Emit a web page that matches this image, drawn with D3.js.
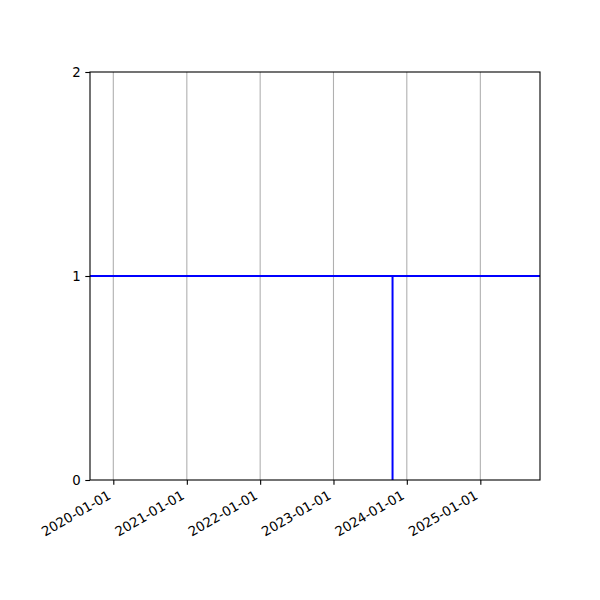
<!DOCTYPE html>
<html>
<head>
<meta charset="utf-8">
<script src="https://cdn.jsdelivr.net/npm/d3@7"></script>
<style>
  body { margin: 0; background: #fff; }
  svg text { font-family: "DejaVu Sans", sans-serif; font-size: 13.3px; fill: #000; }
</style>
</head>
<body>
<div id="chart"></div>
<script>
const xDomain = ["2019-09-07", "2025-10-25"];
const yDomain = [0, 2];
const xTickLabels = ["2020-01-01", "2021-01-01", "2022-01-01", "2023-01-01", "2024-01-01", "2025-01-01"];
const yTickValues = [0, 1, 2];

// horizontal level line
const levelDates = ["2019-09-07", "2025-10-25"];
const levelValues = [1, 1];

// single event spike
const eventDates = ["2023-10-22", "2023-10-22"];
const eventValues = [0, 1];

const width = 600, height = 600;
const margin = { top: 72, right: 60, bottom: 120, left: 90 };
const parse = d3.utcParse("%Y-%m-%d");

const svg = d3.select("#chart").append("svg")
  .attr("width", width)
  .attr("height", height);

const x = d3.scaleUtc()
  .domain(xDomain.map(parse))
  .range([margin.left, width - margin.right]);

const y = d3.scaleLinear()
  .domain(yDomain)
  .range([height - margin.bottom, margin.top]);

const tickDates = xTickLabels.map(parse);

// vertical gridlines
svg.append("g")
  .selectAll("line")
  .data(tickDates)
  .join("line")
  .attr("x1", d => x(d)).attr("x2", d => x(d))
  .attr("y1", y(yDomain[0])).attr("y2", y(yDomain[1]))
  .attr("stroke", "#b0b0b0")
  .attr("stroke-width", 1.1);

const line = d3.line()
  .x(d => x(d.date))
  .y(d => y(d.value));

const levelData = levelDates.map((d, i) => ({ date: parse(d), value: levelValues[i] }));
const eventData = eventDates.map((d, i) => ({ date: parse(d), value: eventValues[i] }));

[levelData, eventData].forEach(data => {
  svg.append("path")
    .datum(data)
    .attr("fill", "none")
    .attr("stroke", "#0000ff")
    .attr("stroke-width", 2)
    .attr("d", line);
});

// frame
svg.append("rect")
  .attr("x", margin.left)
  .attr("y", margin.top)
  .attr("width", width - margin.left - margin.right)
  .attr("height", height - margin.top - margin.bottom)
  .attr("fill", "none")
  .attr("stroke", "#000")
  .attr("stroke-width", 1.1);

// x axis
const xAxis = svg.append("g")
  .attr("transform", `translate(0,${height - margin.bottom})`)
  .call(d3.axisBottom(x)
    .tickValues(tickDates)
    .tickSize(4.7)
    .tickFormat(d3.utcFormat("%Y-%m-%d")));

xAxis.select(".domain").remove();
xAxis.selectAll(".tick line").attr("stroke", "#000").attr("stroke-width", 1.1);
xAxis.selectAll(".tick text")
  .attr("text-anchor", "end")
  .attr("y", 0)
  .attr("dy", 0)
  .attr("transform", "translate(-2,18) rotate(-30)")
  .style("font-size", "13.3px")
  .style("font-family", "DejaVu Sans, sans-serif");

// y axis
const yAxis = svg.append("g")
  .attr("transform", `translate(${margin.left},0)`)
  .call(d3.axisLeft(y)
    .tickValues(yTickValues)
    .tickSize(4.7)
    .tickPadding(4.7)
    .tickFormat(d3.format("d")));

yAxis.select(".domain").remove();
yAxis.selectAll(".tick line").attr("stroke", "#000").attr("stroke-width", 1.1);
yAxis.selectAll(".tick text")
  .style("font-size", "13.3px")
  .style("font-family", "DejaVu Sans, sans-serif");
</script>
</body>
</html>
